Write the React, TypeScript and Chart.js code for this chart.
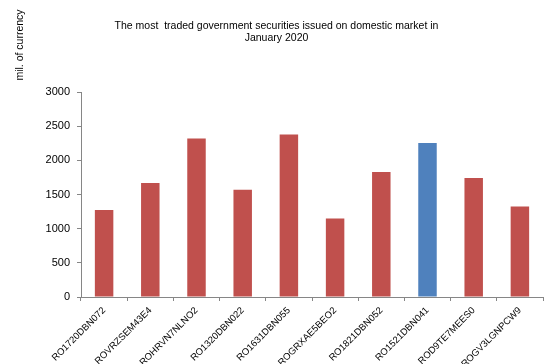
import React, { useEffect, useRef } from "react";
import { Chart, registerables } from "chart.js";

Chart.register(...registerables);

const categories = [
  "RO1720DBN072",
  "ROVRZSEM43E4",
  "ROHRVN7NLNO2",
  "RO1320DBN022",
  "RO1631DBN055",
  "ROGRXAE5BEO2",
  "RO1821DBN052",
  "RO1521DBN041",
  "ROD9TE7MEES0",
  "ROGV3LGNPCW9",
];
const values = [1273, 1668, 2322, 1570, 2381, 1151, 1829, 2254, 1741, 1327];
const highlightIndex = 7;
const titleLines = [
  "The most  traded government securities issued on domestic market in",
  "January 2020",
];
const yAxisLabel = "mil. of currency";

const RED = "#C0504D";
const BLUE = "#4F81BD";
const AXIS = "#868686";
const FONT = "'Liberation Sans', Arial, sans-serif";

export default function App() {
  const ref = useRef<HTMLCanvasElement | null>(null);

  useEffect(() => {
    if (!ref.current) return;
    const yLabelPlugin = {
      id: "yLabelTop",
      afterDraw(chart: any) {
        const ctx = chart.ctx;
        ctx.save();
        ctx.translate(20.5, 45);
        ctx.rotate(-Math.PI / 2);
        ctx.font = `10.5px ${FONT}`;
        ctx.fillStyle = "#000";
        ctx.textAlign = "center";
        ctx.textBaseline = "middle";
        ctx.fillText(yAxisLabel, 0, 0);
        ctx.restore();
      },
    };
    const chart = new Chart(ref.current, {
      type: "bar",
      data: {
        labels: categories,
        datasets: [
          {
            data: values,
            backgroundColor: values.map((_, i) => (i === highlightIndex ? BLUE : RED)),
            barPercentage: 0.4,
            categoryPercentage: 1.0,
            borderWidth: 0,
          },
        ],
      },
      options: {
        responsive: false,
        animation: false,
        layout: { padding: { left: 10, right: 3, top: 0, bottom: 0 } },
        plugins: {
          legend: { display: false },
          tooltip: { enabled: false },
          title: {
            display: true,
            text: titleLines,
            color: "#000",
            font: { family: FONT, size: 10.5, weight: "normal", lineHeight: 1.15 },
            padding: { top: 20, bottom: 48 },
          },
        },
        scales: {
          x: {
            grid: {
              display: true,
              drawOnChartArea: false,
              drawTicks: true,
              tickLength: 4,
              color: AXIS,
              offset: true,
            },
            border: { display: true, color: AXIS, width: 1 },
            ticks: {
              color: "#000",
              font: { family: FONT, size: 9.5 },
              maxRotation: 45,
              minRotation: 45,
              autoSkip: false,
              padding: 4,
            },
            afterFit(scale: any) {
              scale.height = 67;
            },
          },
          y: {
            min: 0,
            max: 3000,
            grid: {
              display: true,
              drawOnChartArea: false,
              drawTicks: true,
              tickLength: 4,
              color: AXIS,
            },
            border: { display: true, color: AXIS, width: 1 },
            ticks: {
              stepSize: 500,
              color: "#000",
              font: { family: FONT, size: 11 },
              padding: 7,
              callback: (v: any) => String(v),
            },
            afterFit(scale: any) {
              scale.width = 71;
            },
          },
        },
      },
      plugins: [yLabelPlugin],
    });
    return () => chart.destroy();
  }, []);

  return (
    <div style={{ position: "absolute", left: 0, top: 0, width: 546, height: 364, background: "#fff" }}>
      <canvas ref={ref} width={546} height={364} style={{ display: "block" }} />
    </div>
  );
}
